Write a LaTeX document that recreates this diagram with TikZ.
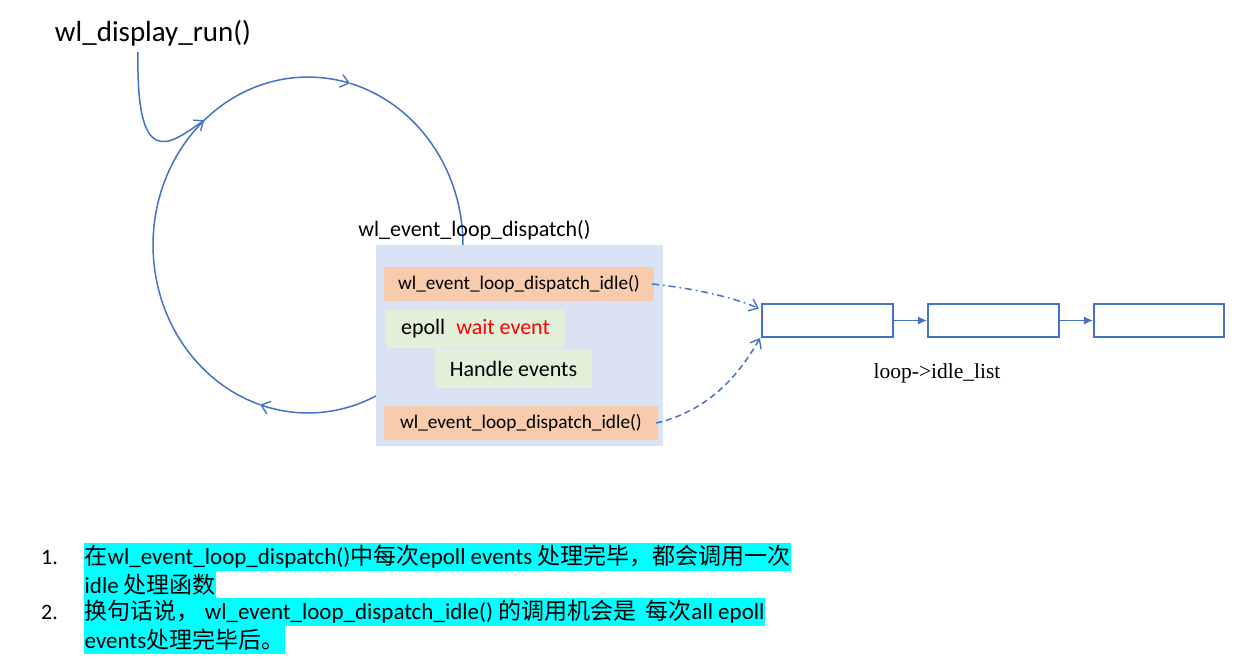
\documentclass[tikz,border=0pt]{standalone}
\usepackage{fontspec}
\setmainfont{Carlito}
\newfontfamily\cjk{Noto Sans CJK SC}
\newfontfamily\serifont{Liberation Serif}
\usetikzlibrary{arrows.meta}
\newcommand\zh[1]{{\cjk #1}}
\definecolor{lblue}{HTML}{4472C4}
\definecolor{boxbg}{HTML}{DAE3F3}
\definecolor{orng}{HTML}{F8CBAD}
\definecolor{grn}{HTML}{E2F0D9}
\definecolor{hl}{HTML}{00FFFF}
\tikzset{
  loopline/.style={draw=lblue, line width=1.5pt},
  barb/.style={-{Straight Barb[length=8pt,width=13pt,line width=1.4pt]}},
  orangebox/.style={fill=orng, inner sep=0pt, minimum width=#1, minimum height=34pt, font=\fontsize{19.3}{22}\selectfont},
  greenbox/.style={fill=grn, inner sep=0pt, minimum height=38pt, font=\fontsize{22}{26}\selectfont},
  listbox/.style={draw=lblue, line width=2.2pt, fill=white, inner sep=0pt, minimum width=#1, minimum height=33pt},
  hltext/.style={fill=hl, inner xsep=0.5pt, inner ysep=0pt, minimum height=28pt, anchor=west, font=\fontsize{23}{26}\selectfont},
  numtext/.style={anchor=west, inner sep=0pt, font=\fontsize{22}{26}\selectfont},
}
\begin{document}
\begin{tikzpicture}[x=1pt,y=-1pt]
\useasboundingbox[fill=white] (0,0) rectangle (1257,669);

% title
\node[font=\fontsize{29}{32}\selectfont, inner sep=0pt] (title) at (153,33) {wl\_display\_run()};
\coordinate (entry) at (138,52);

% loop ellipse (drawn in pieces so the tips sit on it)
\draw[loopline, barb] plot[domain=62:108, samples=20] ({308+155*cos(\x)},{245+168*sin(\x)});
\draw[loopline, barb] plot[domain=108:285.7, samples=60] ({308+155*cos(\x)},{245+168*sin(\x)});
\draw[loopline] plot[domain=285.7:362, samples=30] ({308+155*cos(\x)},{245+168*sin(\x)});
\coordinate (join) at ({308+155*cos(228)},{245+168*sin(228)});
\draw[loopline, barb] (entry) .. controls (136,170) and (168,146) .. (join);

% dispatch block
\node[font=\fontsize{22}{26}\selectfont, inner sep=0pt] (dlabel) at (474.5,230) {wl\_event\_loop\_dispatch()};
\node[fill=boxbg, inner sep=0pt, minimum width=287pt, minimum height=201pt] (dbox) at (519.5,345.5) {};
\node[orangebox=270pt] (idle1) at (519,284) {wl\_event\_loop\_dispatch\_idle()};
\node[greenbox, minimum width=179pt] (epoll) at (475.5,329) {epoll\hspace{0.5em}\textcolor{red}{wait event}};
\node[greenbox, minimum width=157pt, minimum height=39pt] (handle) at (513.5,368.5) {Handle events};
\node[orangebox=274pt] (idle2) at (521,423) {wl\_event\_loop\_dispatch\_idle()};

% idle list
\node[listbox=131pt] (n1) at (827.5,320.5) {};
\node[listbox=131pt] (n2) at (993.5,320.5) {};
\node[listbox=130pt] (n3) at (1159,320.5) {};
\draw[lblue, line width=1pt, -{Latex[length=9pt,width=8pt]}] (n1.east) -- (n2.west);
\draw[lblue, line width=1pt, -{Latex[length=9pt,width=8pt]}] (n2.east) -- (n3.west);
\node[font=\serifont\fontsize{21.5}{24}\selectfont, inner sep=0pt] (lname) at (937,373) {loop->idle\_list};

\coordinate (s1) at ([xshift=-2pt]idle1.east);
\coordinate (s2) at ([xshift=-2pt]idle2.east);
\draw[lblue, line width=1.5pt, dash pattern=on 7pt off 4pt on 1.5pt off 4pt, barb] (s1) .. controls (690,288) and (730,296) .. ([yshift=12pt,xshift=-2pt]n1.west);
\draw[lblue, line width=1.5pt, dash pattern=on 6pt off 4pt, barb] (s2) .. controls (712,410) and (742,370) .. ([xshift=-1pt]n1.south west);

% notes
\node[numtext] (num1) at (41,557) {1.};
\node[hltext] (l1) at (84,557) {\zh{在}wl\_event\_loop\_dispatch()\zh{中每次}epoll events \zh{处理完毕，都会调用一次}};
\node[hltext] (l2) at (84,585) {idle \zh{处理函数}};
\node[numtext] (num2) at (41,612) {2.};
\node[hltext] (l3) at (84,612) {\zh{换句话说，} wl\_event\_loop\_dispatch\_idle() \zh{的调用机会是}\hspace{0.4em}\zh{每次}all epoll\hspace{0.3em}};
\node[hltext] (l4) at (84,640) {events\zh{处理完毕后。}};
\end{tikzpicture}
\end{document}
